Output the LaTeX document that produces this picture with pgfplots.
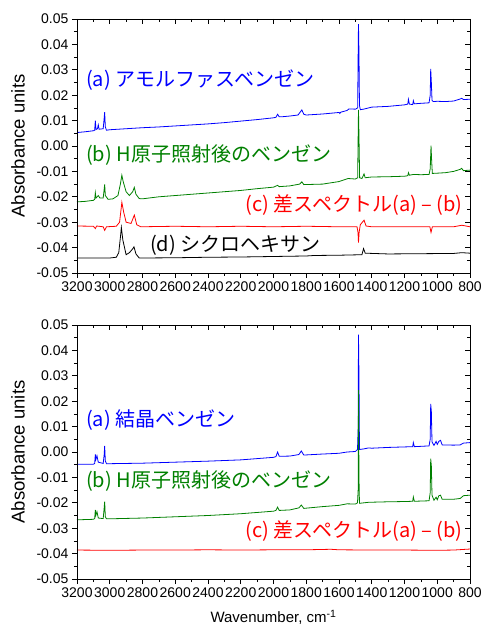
\documentclass[border=0pt]{standalone}
\usepackage{pgfplots}
\pgfplotsset{compat=1.18}
\usepackage{fontspec}
\setmainfont{Liberation Sans}
\newfontfamily\jp{Noto Sans CJK JP}
\definecolor{sgreen}{RGB}{0,128,0}
\definecolor{sblue}{RGB}{0,0,255}
\definecolor{sred}{RGB}{255,0,0}
\tikzset{lab/.style={font=\jp\fontsize{20}{20}\selectfont, inner sep=0pt}}
\pgfplotsset{
  base/.style={
    scale only axis, width=393pt, height=254pt,
    x dir=reverse, xmin=800, xmax=3200, ymin=-0.05, ymax=0.05,
    scaled ticks=false,
    xtick={800,1000,1200,1400,1600,1800,2000,2200,2400,2600,2800,3000,3200},
    ytick={-0.05,-0.04,-0.03,-0.02,-0.01,0,0.01,0.02,0.03,0.04,0.05},
    minor x tick num=1, minor y tick num=1,
    major tick length=5pt, minor tick length=3pt,
    axis line style={line width=0.8pt},
    every tick/.style={black, line width=0.7pt},
  },
  mainax/.style={base,
    tick align=outside, tick pos=left,
    /pgf/number format/assume math mode=true,
    x tick label style={font=\fontsize{14}{14}\selectfont, /pgf/number format/1000 sep={}, inner xsep=0pt},
    y tick label style={font=\fontsize{14}{14}\selectfont, /pgf/number format/fixed, /pgf/number format/fixed zerofill, /pgf/number format/precision=2},
    ylabel={Absorbance units},
    every axis y label/.style={at={(axis description cs:-0.15,0.5)}, anchor=center, rotate=90, font=\fontsize{18.5}{18}\selectfont},
    every axis plot/.append style={line width=0.8pt},
  },
  mirrorax/.style={base, tick align=inside, tick pos=right, xticklabels={}, yticklabels={}},
}
\begin{document}
\begin{tikzpicture}
\useasboundingbox (-77pt,-353pt) rectangle (404pt,273pt);
% ---------- top panel ----------
\begin{axis}[mainax]
\addplot[sblue] coordinates {
(3200,0.0053) (3150,0.0056) (3100,0.0060) (3092,0.0062) (3088,0.0100) (3084,0.0065) (3075,0.0068) (3070,0.0083) (3065,0.0066) (3040,0.0068) (3034,0.0110) (3031,0.0133) (3027,0.0075) (3020,0.0062) (3000,0.0064) (2900,0.0068) (2800,0.0072) (2700,0.0075) (2600,0.0079) (2500,0.0083) (2400,0.0087) (2300,0.0092) (2200,0.0098) (2100,0.0104) (2000,0.0111) (1985,0.0113) (1975,0.0125) (1965,0.0115) (1950,0.0115) (1900,0.0118) (1850,0.0122) (1835,0.0135) (1827,0.0142) (1815,0.0125) (1800,0.0122) (1700,0.0126) (1600,0.0132) (1595,0.0128) (1590,0.0133) (1550,0.0140) (1540,0.0146) (1500,0.0145) (1486,0.0150) (1483,0.0365) (1481,0.0480) (1478,0.0366) (1475,0.0160) (1470,0.0143) (1450,0.0145) (1400,0.0153) (1300,0.0156) (1200,0.0162) (1180,0.0165) (1176,0.0184) (1170,0.0165) (1150,0.0163) (1146,0.0178) (1140,0.0166) (1100,0.0168) (1050,0.0170) (1043,0.0200) (1040,0.0304) (1036,0.0250) (1032,0.0180) (1025,0.0175) (1000,0.0176) (950,0.0175) (900,0.0177) (860,0.0185) (851,0.0188) (840,0.0183) (800,0.0184)
};
\addplot[sgreen] coordinates {
(3200,-0.0220) (3150,-0.0218) (3100,-0.0214) (3092,-0.0210) (3088,-0.0184) (3084,-0.0205) (3070,-0.0195) (3060,-0.0205) (3040,-0.0205) (3034,-0.0170) (3031,-0.0151) (3027,-0.0195) (3010,-0.0210) (2980,-0.0208) (2950,-0.0195) (2935,-0.0150) (2926,-0.0115) (2918,-0.0140) (2900,-0.0180) (2880,-0.0195) (2860,-0.0180) (2850,-0.0163) (2840,-0.0190) (2820,-0.0207) (2800,-0.0208) (2700,-0.0200) (2600,-0.0195) (2500,-0.0190) (2400,-0.0185) (2300,-0.0180) (2200,-0.0175) (2100,-0.0168) (2000,-0.0162) (1975,-0.0155) (1965,-0.0160) (1900,-0.0157) (1840,-0.0150) (1827,-0.0141) (1815,-0.0152) (1700,-0.0150) (1600,-0.0140) (1545,-0.0128) (1500,-0.0130) (1486,-0.0125) (1483,0.0040) (1481,0.0142) (1478,0.0040) (1474,-0.0125) (1460,-0.0128) (1447,-0.0110) (1440,-0.0125) (1400,-0.0122) (1300,-0.0121) (1200,-0.0119) (1180,-0.0117) (1176,-0.0105) (1170,-0.0115) (1146,-0.0112) (1100,-0.0113) (1050,-0.0112) (1043,-0.0090) (1038,0.0001) (1034,-0.0060) (1030,-0.0108) (1000,-0.0107) (950,-0.0105) (900,-0.0100) (860,-0.0092) (851,-0.0088) (840,-0.0097) (800,-0.0095)
};
\addplot[sred] coordinates {
(3200,-0.0315) (3100,-0.0316) (3088,-0.0325) (3080,-0.0315) (3040,-0.0318) (3031,-0.0332) (3020,-0.0318) (2960,-0.0316) (2940,-0.0300) (2926,-0.0222) (2915,-0.0260) (2900,-0.0300) (2870,-0.0305) (2850,-0.0272) (2835,-0.0310) (2810,-0.0318) (2600,-0.0316) (2400,-0.0318) (2200,-0.0316) (2000,-0.0318) (1800,-0.0316) (1600,-0.0318) (1490,-0.0318) (1484,-0.0340) (1481,-0.0380) (1477,-0.0340) (1470,-0.0310) (1447,-0.0292) (1435,-0.0315) (1400,-0.0318) (1200,-0.0318) (1045,-0.0318) (1038,-0.0340) (1030,-0.0318) (900,-0.0318) (850,-0.0312) (800,-0.0318)
};
\addplot[black] coordinates {
(3200,-0.0441) (3000,-0.0441) (2960,-0.0438) (2945,-0.0420) (2935,-0.0360) (2929,-0.0321) (2920,-0.0370) (2900,-0.0428) (2880,-0.0420) (2860,-0.0405) (2852,-0.0397) (2840,-0.0425) (2820,-0.0441) (2600,-0.0440) (2400,-0.0438) (2200,-0.0437) (2000,-0.0435) (1800,-0.0433) (1750,-0.0431) (1600,-0.0430) (1460,-0.0428) (1450,-0.0404) (1440,-0.0422) (1300,-0.0425) (1100,-0.0424) (900,-0.0423) (850,-0.0420) (800,-0.0422)
};
\node[lab, anchor=west, text=sblue] at (axis cs:3145,0.026) {(a) アモルファスベンゼン};
\node[lab, anchor=west, text=sgreen] at (axis cs:3145,-0.0035) {(b) H原子照射後のベンゼン};
\node[lab, anchor=east, text=sred] at (axis cs:843,-0.0232) {(c) 差スペクトル(a) – (b)};
\node[lab, anchor=west, text=black] at (axis cs:2754,-0.039) {(d) シクロヘキサン};
\end{axis}
\begin{axis}[mirrorax]
\end{axis}
% ---------- bottom panel ----------
\begin{axis}[mainax, yshift=-306pt,
  xlabel={Wavenumber, cm\textsuperscript{-1}},
  every axis x label/.style={at={(axis description cs:0.5,-0.15)}, anchor=center, font=\fontsize{15}{15}\selectfont}]
\addplot[sblue] coordinates {
(3200,-0.0048) (3100,-0.0048) (3092,-0.0045) (3088,-0.0009) (3085,-0.0030) (3078,-0.0015) (3070,-0.0040) (3040,-0.0045) (3034,-0.0010) (3031,0.0024) (3027,-0.0035) (3020,-0.0046) (3000,-0.0046) (2800,-0.0044) (2600,-0.0040) (2400,-0.0036) (2200,-0.0031) (2000,-0.0021) (1985,-0.0018) (1975,0.0000) (1965,-0.0017) (1900,-0.0016) (1845,-0.0010) (1830,0.0004) (1815,-0.0012) (1700,-0.0008) (1600,-0.0005) (1550,0.0000) (1500,0.0002) (1487,0.0010) (1483,0.0090) (1481,0.0462) (1478,0.0300) (1475,0.0010) (1450,0.0012) (1420,0.0016) (1400,0.0015) (1300,0.0018) (1200,0.0020) (1150,0.0021) (1146,0.0037) (1140,0.0021) (1050,0.0024) (1043,0.0050) (1040,0.0189) (1036,0.0159) (1032,0.0040) (1020,0.0026) (1007,0.0042) (1000,0.0030) (990,0.0042) (980,0.0046) (970,0.0028) (900,0.0027) (860,0.0028) (840,0.0035) (800,0.0037)
};
\addplot[sgreen] coordinates {
(3200,-0.0267) (3100,-0.0265) (3092,-0.0262) (3088,-0.0228) (3085,-0.0250) (3078,-0.0235) (3070,-0.0260) (3040,-0.0262) (3034,-0.0220) (3031,-0.0195) (3027,-0.0255) (3020,-0.0263) (3000,-0.0263) (2800,-0.0260) (2600,-0.0255) (2400,-0.0250) (2200,-0.0243) (2000,-0.0233) (1985,-0.0230) (1975,-0.0217) (1965,-0.0230) (1900,-0.0228) (1845,-0.0220) (1830,-0.0209) (1815,-0.0222) (1700,-0.0215) (1600,-0.0210) (1550,-0.0204) (1500,-0.0205) (1487,-0.0200) (1483,-0.0150) (1481,0.0244) (1478,-0.0100) (1475,-0.0202) (1420,-0.0198) (1300,-0.0196) (1200,-0.0195) (1150,-0.0194) (1146,-0.0177) (1140,-0.0194) (1050,-0.0192) (1043,-0.0160) (1040,-0.0026) (1036,-0.0055) (1032,-0.0170) (1020,-0.0190) (1007,-0.0178) (1000,-0.0188) (990,-0.0172) (980,-0.0170) (970,-0.0186) (900,-0.0186) (860,-0.0183) (840,-0.0172) (800,-0.0170)
};
\addplot[sred] coordinates {
(3200,-0.0386) (3000,-0.0387) (2800,-0.0386) (2600,-0.0386) (2400,-0.0385) (2200,-0.0386) (2000,-0.0385) (1800,-0.0385) (1650,-0.0383) (1600,-0.0385) (1400,-0.0386) (1200,-0.0386) (1000,-0.0387) (900,-0.0386) (850,-0.0384) (800,-0.0382)
};
\node[lab, anchor=west, text=sblue] at (axis cs:3145,0.0124) {(a) 結晶ベンゼン};
\node[lab, anchor=west, text=sgreen] at (axis cs:3145,-0.0113) {(b) H原子照射後のベンゼン};
\node[lab, anchor=east, text=sred] at (axis cs:843,-0.031) {(c) 差スペクトル(a) – (b)};
\end{axis}
\begin{axis}[mirrorax, yshift=-306pt]
\end{axis}
\end{tikzpicture}
\end{document}
